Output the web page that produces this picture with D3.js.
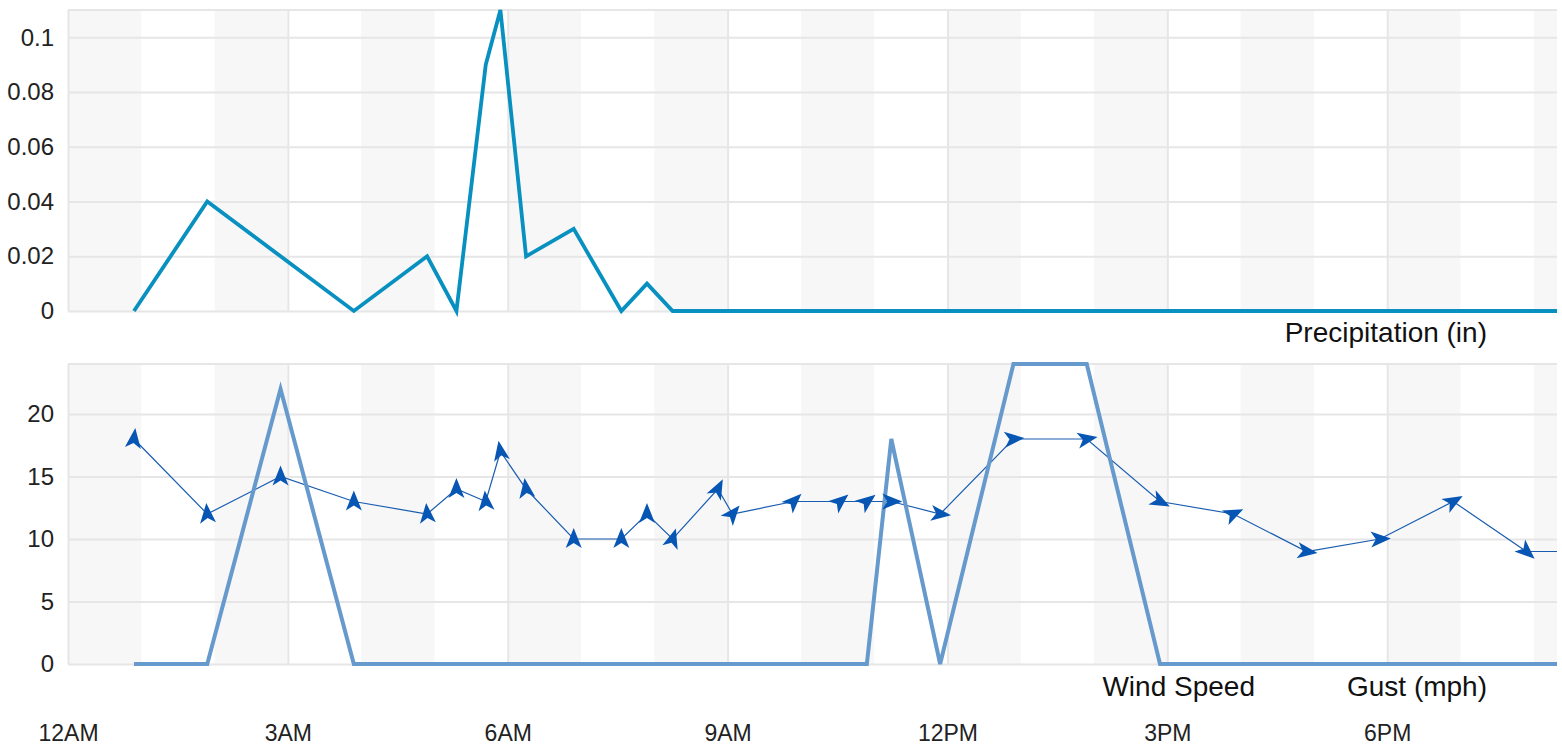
<!DOCTYPE html>
<html>
<head>
<meta charset="utf-8">
<script src="https://cdn.jsdelivr.net/npm/d3@7"></script>
<style>
body { margin: 0; background: #fff; }
svg text { font-family: "Helvetica Neue", Helvetica, Arial, "Liberation Sans", sans-serif; }
</style>
</head>
<body>
<div id="chart"></div>
<script>
// observation times (local), one entry per reading
var obsTimes = ["00:54","01:54","02:54","03:54","04:54","05:18","05:42","05:54","06:15","06:54",
	"07:33","07:54","08:15","08:52","09:04","09:54","10:32","10:54","11:14","11:54",
	"12:54","13:54","14:54","15:54","16:54","17:54","18:54","19:54","20:54"];
var precipIn = [0, 0.04, 0.02, 0, 0.02, 0, 0.09, 0.11, 0.02, 0.03,
	0, 0.01, 0, 0, 0, 0, 0, 0, 0, 0,
	0, 0, 0, 0, 0, 0, 0, 0, 0];
var windMph = [18, 12, 15, 13, 12, 14, 13, 17, 14, 10,
	10, 12, 10, 14, 12, 13, 13, 13, 13, 12,
	18, 18, 13, 12, 9, 10, 13, 9, 9];
var gustMph = [0, 0, 22, 0, 0, 0, 0, 0, 0, 0,
	0, 0, 0, 0, 0, 0, 0, 0, 18, 0,
	24, 24, 0, 0, 0, 0, 0, 0, 0];
// wind direction, degrees the wind blows from
var windDir = [187, 175, 180, 180, 175, 180, 175, 170, 172, 180,
	180, 180, 197, 207, 220, 226, 230, 232, 270, 277,
	265, 260, 297, 245, 278, 267, 240, 312, 270];

var precipTicks = [0, 0.02, 0.04, 0.06, 0.08, 0.1];
var windTicks = [0, 5, 10, 15, 20];
var hourTicks = ["00:00", "03:00", "06:00", "09:00", "12:00", "15:00", "18:00"];
var viewStart = "00:00", viewEnd = "20:19";
var precipMax = 0.11, windMax = 24;
var topLegend = ["Precipitation (in)"];
var bottomLegend = ["Wind Speed", "Gust (mph)"];

function WeatherChart (opts) {
	for (var k in opts) {
		this[k] = opts[k];
	}
	this.init();
}

WeatherChart.prototype = {
	init: function () {
		var self = this;
		var parse = d3.timeParse("%Y-%m-%d %H:%M");
		self.parse = function (t) { return parse("2020-03-01 " + t); };
		self.rows = obsTimes.map(function (t, i) {
			return {
				time: self.parse(t),
				precip: precipIn[i],
				wind: windMph[i],
				gust: gustMph[i],
				dir: windDir[i]
			};
		});
		self.x = d3.scaleTime()
			.domain([self.parse(viewStart), self.parse(viewEnd)])
			.range([self.left, self.right]);
		self.createSVG();
		self.createPanel(self.top1, self.bottom1, d3.scaleLinear().domain([0, precipMax]).range([self.bottom1, self.top1]), precipTicks, 'p');
		self.createPanel(self.top2, self.bottom2, d3.scaleLinear().domain([0, windMax]).range([self.bottom2, self.top2]), windTicks, 'w');
		self.createPrecip();
		self.createWind();
		self.createXAxis();
		self.createLegend(topLegend, self.bottom1 + 31);
		self.createLegend(bottomLegend, self.bottom2 + 32);
	},
	createSVG: function () {
		this.svg = d3.select("#" + this.elId)
			.append("svg")
			.attr("width", this.width)
			.attr("height", this.height);
		this.svg.append("clipPath")
			.attr("id", "plotClip")
			.append("rect")
			.attr("x", this.left)
			.attr("y", 0)
			.attr("width", this.right - this.left)
			.attr("height", this.height);
	},
	createPanel: function (top, bottom, y, ticks, key) {
		var self = this;
		var g = self.svg.append("g").attr("class", "panel_" + key);
		var end = self.x.domain()[1];
		// alternating hour bands
		var hours = d3.timeHour.range(self.x.domain()[0], end).filter(function (d) {
			return d.getHours() % 2 === 0;
		});
		g.selectAll(".band")
			.data(hours)
			.enter()
			.append("rect")
			.attr("class", "band")
			.attr("x", function (d) { return self.x(d); })
			.attr("y", top)
			.attr("width", function (d) {
				var e = d3.timeHour.offset(d, 1);
				if (e > end) e = end;
				return self.x(e) - self.x(d);
			})
			.attr("height", bottom - top)
			.attr("fill", "#f7f7f7");

		// vertical grid
		var vg = g.append("g")
			.attr("transform", "translate(0," + bottom + ")")
			.call(d3.axisBottom(self.x)
				.tickValues(hourTicks.map(self.parse))
				.tickSize(-(bottom - top))
				.tickFormat(""));
		vg.select(".domain").remove();
		vg.selectAll("line").attr("stroke", "#e6e6e6").attr("stroke-width", 2);

		// horizontal grid + labels
		self[key + "Y"] = y;
		var hg = g.append("g")
			.attr("transform", "translate(" + self.left + ",0)")
			.call(d3.axisLeft(y)
				.tickValues(ticks)
				.tickSizeInner(-(self.right - self.left))
				.tickSizeOuter(0)
				.tickPadding(14)
				.tickFormat(function (d) { return String(+d.toFixed(2)); }));
		hg.select(".domain").remove();
		hg.selectAll("line").attr("stroke", "#e6e6e6").attr("stroke-width", 2);
		hg.selectAll("text")
			.attr("font-size", "24px")
			.attr("fill", "#222");
		g.append("line")
			.attr("x1", self.left)
			.attr("x2", self.right)
			.attr("y1", top)
			.attr("y2", top)
			.attr("stroke", "#e6e6e6")
			.attr("stroke-width", 2);
	},
	createPrecip: function () {
		var self = this;
		var line = d3.line()
			.x(function (d) { return self.x(d.time); })
			.y(function (d) { return self.pY(d.precip); });
		self.svg.append("path")
			.datum(self.rows)
			.attr("clip-path", "url(#plotClip)")
			.attr("d", line)
			.attr("fill", "none")
			.attr("stroke", "#0790c0")
			.attr("stroke-width", 3.8);
	},
	createWind: function () {
		var self = this;
		var g = self.svg.append("g").attr("clip-path", "url(#plotClip)");
		var speed = d3.line()
			.x(function (d) { return self.x(d.time); })
			.y(function (d) { return self.wY(d.wind); });
		var gust = d3.line()
			.x(function (d) { return self.x(d.time); })
			.y(function (d) { return self.wY(d.gust); });
		g.append("path")
			.datum(self.rows)
			.attr("d", speed)
			.attr("fill", "none")
			.attr("stroke", "#1a5db0")
			.attr("stroke-width", 1.2);
		g.append("path")
			.datum(self.rows)
			.attr("d", gust)
			.attr("fill", "none")
			.attr("stroke", "#6699cc")
			.attr("stroke-width", 4);
		// arrows point the way the wind blows
		g.selectAll(".wind_arrow")
			.data(self.rows)
			.enter()
			.append("path")
			.attr("class", "wind_arrow")
			.attr("d", "M0,-11L8,9L0,4L-8,9Z")
			.attr("transform", function (d) {
				return "translate(" + self.x(d.time) + "," + self.wY(d.wind) + ") rotate(" + ((d.dir + 180) % 360) + ")";
			})
			.attr("fill", "#0756b4");
	},
	createXAxis: function () {
		var ax = this.svg.append("g")
			.attr("transform", "translate(0," + (this.bottom2 + 61) + ")")
			.call(d3.axisBottom(this.x)
				.tickValues(hourTicks.map(this.parse))
				.tickSize(0)
				.tickPadding(0)
				.tickFormat(d3.timeFormat("%-I%p")));
		ax.select(".domain").remove();
		ax.selectAll("text")
			.attr("font-size", "23px")
			.attr("fill", "#222");
	},
	createLegend: function (items, baseline) {
		var self = this;
		var texts = self.svg.selectAll(".lg_" + baseline)
			.data(items)
			.enter()
			.append("text")
			.attr("class", "lg_" + baseline)
			.attr("y", baseline)
			.attr("font-size", "28px")
			.attr("fill", "#111")
			.attr("text-anchor", "end")
			.text(function (d) { return d; });
		var end = self.legendRight;
		var nodes = texts.nodes();
		for (var i = nodes.length - 1; i >= 0; i--) {
			d3.select(nodes[i]).attr("x", end);
			end = end - nodes[i].getComputedTextLength() - 92;
		}
	}
};

new WeatherChart({
	elId: "chart",
	width: 1562,
	height: 755,
	left: 68,
	right: 1557,
	top1: 10,
	bottom1: 311,
	top2: 364,
	bottom2: 664,
	legendRight: 1487
});
</script>
</body>
</html>
